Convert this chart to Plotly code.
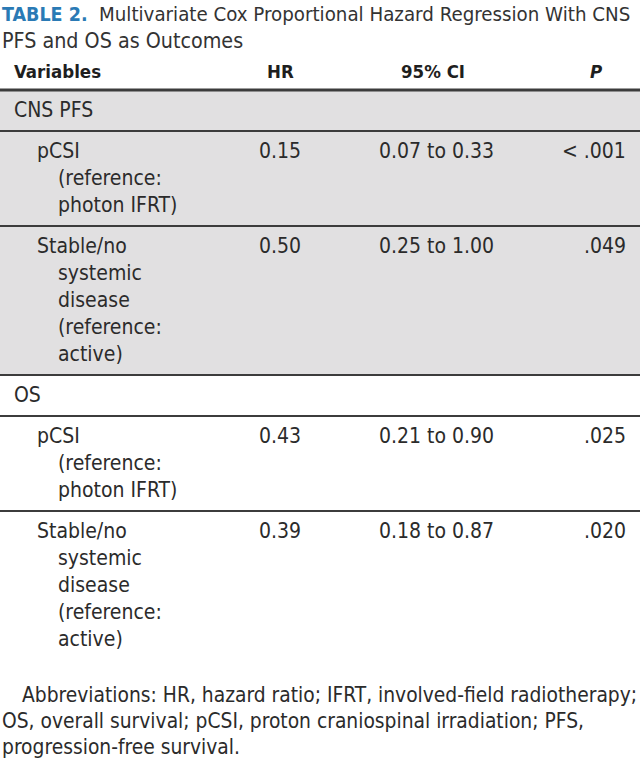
import plotly.graph_objects as go

# ---------------- data ----------------
title_label = "TABLE 2."
title_lines = ["Multivariate Cox Proportional Hazard Regression With CNS",
               "PFS and OS as Outcomes"]
columns = ["Variables", "HR", "95% CI", "P"]
groups = ["CNS PFS", "OS"]
variable_lines = [["pCSI", "(reference:", "photon IFRT)"],
                  ["Stable/no", "systemic", "disease", "(reference:", "active)"]]
hr_values = [["0.15", "0.50"], ["0.43", "0.39"]]
ci_low = [["0.07", "0.25"], ["0.21", "0.18"]]
ci_high = [["0.33", "1.00"], ["0.90", "0.87"]]
p_values = [["< .001", ".049"], [".025", ".020"]]
footnote_lines = ["Abbreviations: HR, hazard ratio; IFRT, involved-field radiotherapy;",
                  "OS, overall survival; pCSI, proton craniospinal irradiation; PFS,",
                  "progression-free survival."]

# ---------------- style ----------------
W, H = 640, 766
FONT = "DejaVu Sans Condensed, Liberation Sans Narrow, sans-serif"
TXT = "#2b2b2b"
BLUE = "#2a7ab5"
GRAY = "#e1e0e1"
LINE = "#3c3c3c"
LH = 27
FS = 21

fig = go.Figure()
shapes = []
ann = []

def text(x, y, s, anchor="left", size=FS, color=TXT, family=FONT):
    ann.append(dict(x=x, y=y, xref="x", yref="y", text=s, showarrow=False,
                    xanchor=anchor, yanchor="middle",
                    font=dict(family=family, size=size, color=color)))

# title
text(0, 14, f"<b>{title_label}</b>", size=19.5, color=BLUE)
text(97, 14, title_lines[0], size=20.3, color="#333333")
text(0, 40, title_lines[1], size=21.3, color="#333333")

# header
col_x = [12, 280, 433, 596]
text(col_x[0], 71, f"<b>{columns[0]}</b>", size=18.5, color="#1e1e1e")
text(col_x[1], 71, f"<b>{columns[1]}</b>", anchor="center", size=18.5, color="#1e1e1e")
text(col_x[2], 71, f"<b>{columns[2]}</b>", anchor="center", size=18.5, color="#1e1e1e")
text(col_x[3], 71, f"<b><i>{columns[3]}</i></b>", anchor="center", size=18.5, color="#1e1e1e")

y = 90
shapes.append(dict(type="line", x0=0, x1=W, y0=y, y1=y, line=dict(color=LINE, width=3), layer="above"))
for gi, g in enumerate(groups):
    sec_top = y
    rows = []
    h = LH + 14
    rows.append(("group", y, h))
    y += h
    for vi, lines in enumerate(variable_lines):
        h = len(lines) * LH + 14
        rows.append(("var", y, h, vi))
        y += h
    sec_bot = y
    if gi == 0:
        shapes.append(dict(type="rect", x0=0, x1=W, y0=sec_top, y1=sec_bot,
                           fillcolor=GRAY, line=dict(width=0), layer="below"))
    for r in rows:
        top = r[1]
        c = top + 20
        if r[0] == "group":
            text(12, c, g)
        else:
            vi = r[3]
            for li, s in enumerate(variable_lines[vi]):
                text(35 if li == 0 else 56, c + li * LH, s)
            text(col_x[1] - 23, c, hr_values[gi][vi])
            text(col_x[2] + 3, c, f"{ci_low[gi][vi]} to {ci_high[gi][vi]}", anchor="center")
            text(628, c, p_values[gi][vi], anchor="right")
        bot = top + r[2]
        if not (gi == len(groups) - 1 and r is rows[-1]):
            shapes.append(dict(type="line", x0=0, x1=W, y0=bot, y1=bot,
                               line=dict(color=LINE, width=2), layer="above"))

# footnote
text(20, 695, footnote_lines[0], size=20.8)
text(0, 721, footnote_lines[1], size=20.8)
text(0, 747, footnote_lines[2], size=20.8)

fig.update_layout(width=W, height=H, margin=dict(l=0, r=0, t=0, b=0),
                  paper_bgcolor="white", plot_bgcolor="white",
                  xaxis=dict(range=[0, W], visible=False, fixedrange=True),
                  yaxis=dict(range=[H, 0], visible=False, fixedrange=True),
                  shapes=shapes, annotations=ann, showlegend=False)
fig.write_html("out.html", config={"displayModeBar": False},
               post_script="document.body.style.margin='0';document.body.style.overflow='hidden';")
